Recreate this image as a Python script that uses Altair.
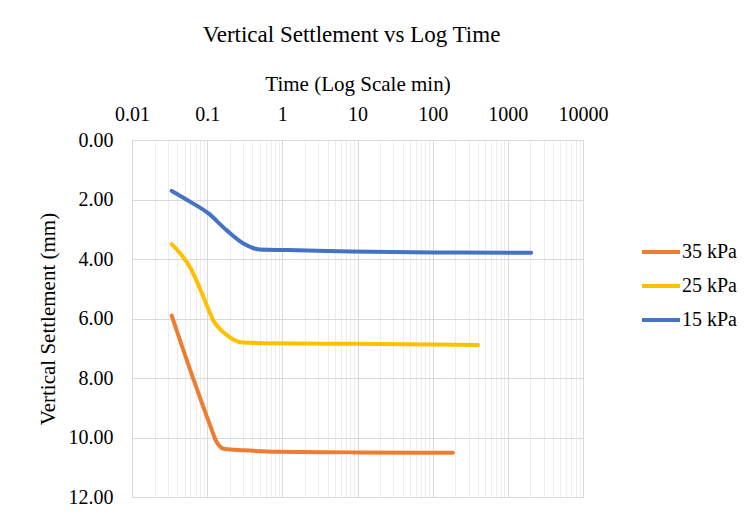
import altair as alt
import pandas as pd

# ---- data ----
series_names = ["35 kPa", "25 kPa", "15 kPa"]
series_colors = ["#ED7D31", "#FFC000", "#4472C4"]

t_35 = [0.0337, 0.065, 0.109, 0.133, 0.172, 0.30, 0.84, 8.0, 60.0, 186.0]
s_35 = [5.90, 8.01, 9.58, 10.14, 10.39, 10.43, 10.48, 10.50, 10.51, 10.51]

t_25 = [0.0337, 0.062, 0.089, 0.12, 0.181, 0.30, 0.68, 8.0, 100.0, 400.0]
s_25 = [3.50, 4.37, 5.27, 6.05, 6.55, 6.81, 6.83, 6.85, 6.87, 6.89]

t_15 = [0.0337, 0.059, 0.103, 0.181, 0.30, 0.50, 1.19, 8.0, 100.0, 2040.0]
s_15 = [1.71, 2.07, 2.46, 3.03, 3.47, 3.68, 3.70, 3.75, 3.78, 3.79]

x_major = [0.01, 0.1, 1, 10, 100, 1000, 10000]
x_minor_mult = [1, 2, 3, 4, 5, 6, 7, 8, 9]
y_ticks = [0, 2, 4, 6, 8, 10, 12]

rows = []
for name, ts, ss in zip(series_names, [t_35, t_25, t_15], [s_35, s_25, s_15]):
    for i, (t, s) in enumerate(zip(ts, ss)):
        rows.append({"series": name, "time": t, "settle": s, "order": i})
df = pd.DataFrame(rows)

x_values = sorted({round(m * d, 6) for d in x_major[:-1] for m in x_minor_mult} | {10000})
major_str = "[" + ",".join(str(v) for v in x_major) + "]"

FONT = "Liberation Serif"

chart = alt.Chart(df).mark_line(
    strokeWidth=4, strokeCap="round", interpolate="monotone"
).encode(
    x=alt.X(
        "time:Q",
        scale=alt.Scale(type="log", domain=[0.01, 10000]),
        axis=alt.Axis(
            orient="top",
            title="Time (Log Scale min)",
            values=x_values,
            labelExpr=f"indexof({major_str}, datum.value) >= 0 ? format(datum.value, '~g') : ''",
            labelFlush=False,
            labelOverlap=False,
            ticks=False,
            tickSize=0,
            domain=False,
            labelPadding=16,
            labelFont=FONT,
            labelFontSize=20,
            labelColor="#000000",
            titleFont=FONT,
            titleFontSize=21,
            titleFontWeight="normal",
            titleColor="#000000",
            titlePadding=10,
            gridColor={
                "condition": {"test": f"indexof({major_str}, datum.value) >= 0", "value": "#d9d9d9"},
                "value": "#ededed",
            },
            gridWidth=1,
        ),
    ),
    y=alt.Y(
        "settle:Q",
        scale=alt.Scale(domain=[0, 12], reverse=True, nice=False),
        axis=alt.Axis(
            title="Vertical Settlement (mm)",
            values=y_ticks,
            format=".2f",
            labelFlush=False,
            ticks=False,
            tickSize=0,
            domain=False,
            labelPadding=19,
            labelFont=FONT,
            labelFontSize=20,
            labelColor="#000000",
            titleFont=FONT,
            titleFontSize=21,
            titleFontWeight="normal",
            titleColor="#000000",
            titlePadding=10,
            gridColor="#d9d9d9",
            gridWidth=1,
        ),
    ),
    color=alt.Color(
        "series:N",
        scale=alt.Scale(domain=series_names, range=series_colors),
        legend=alt.Legend(
            title=None,
            orient="none",
            legendX=508,
            legendY=91,
            symbolType="stroke",
            symbolSize=1444,
            symbolStrokeWidth=4,
            labelFont=FONT,
            labelFontSize=20,
            labelColor="#000000",
            labelOffset=0,
            rowPadding=3,
            padding=0,
        ),
    ),
    order="order:Q",
).properties(
    width=451,
    height=357,
    title=alt.Title(
        "Vertical Settlement vs Log Time",
        font=FONT,
        fontSize=23,
        fontWeight="normal",
        color="#000000",
        anchor="middle",
        offset=26,
        dx=-6,
    ),
    autosize=alt.AutoSizeParams(type="none"),
    padding={"left": 124, "top": 132, "right": 158, "bottom": 12},
).configure_view(stroke=None).configure(background="#ffffff")

chart.save("out.html", embed_options={"renderer": "svg", "actions": False})
